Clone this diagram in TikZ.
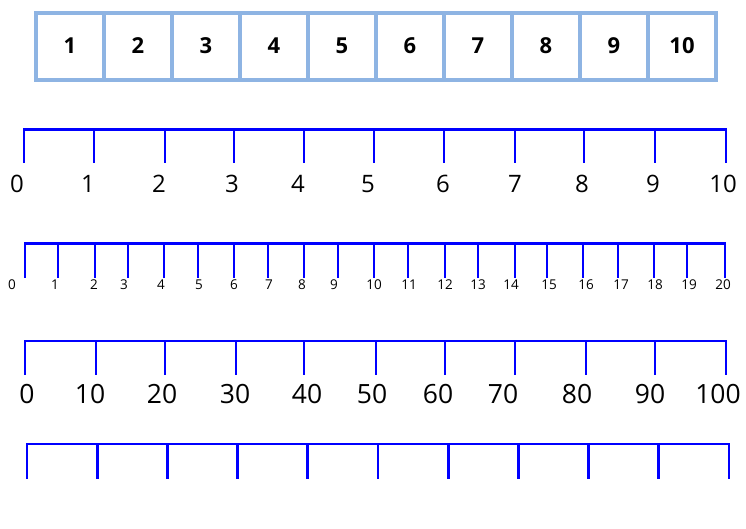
\documentclass[tikz,border=0pt]{standalone}
\usepackage{fontspec}
\setmainfont{Open Sans}
\usepackage{xcolor}
\usepackage{tikz}
\usetikzlibrary{positioning}
\definecolor{cellblue}{HTML}{8EB4E3}
\tikzset{
  cell/.style={draw=cellblue,line width=4pt,minimum width=68pt,minimum height=67pt,inner sep=0pt,font=\fontsize{22}{24}\selectfont\bfseries},
  numline/.style={blue,line width=2.9pt,line cap=rect},
  tick/.style={blue,line width=2.9pt},
  bigl/.style={inner sep=0pt,font=\fontsize{24}{26}\selectfont},
  smalll/.style={inner sep=0pt,font=\fontsize{13.5}{15}\selectfont},
  hugel/.style={inner sep=0pt,font=\fontsize{26.5}{28}\selectfont}
}

\begin{document}
\begin{tikzpicture}[x=1pt,y=-1pt]
  \useasboundingbox (0,0) rectangle (746,528);
  % counting cells
  \foreach \i in {1,...,10}
    \node[cell] (c\i) at ({2+68*\i},46) {\i};
  % line 0 to 10
  \draw[numline] (24,129.5) -- (726,129.5);
  \foreach \t/\l/\n in {24/17/0,94/88/1,165/159/2,234/232/3,304/298/4,374/368/5,
                        444/443/6,515/515/7,584/582/8,655/653/9,726/723/10} {
    \draw[tick] (\t,129.5) -- (\t,163);
    \node[bigl] (a\n) at (\l,184) {\n};
  }
  % line 0 to 20
  \draw[numline] (25,243.5) -- (725,243.5);
  \foreach \t/\l/\n in {25/12/0,58/55/1,95/94/2,128/124/3,164/161/4,198/199/5,
                        234/234/6,268/269/7,304/302/8,338/334/9,374/374/10,
                        408/409/11,445/445/12,478/478/13,515/511/14,547/549/15,
                        583/586/16,618/621/17,654/655/18,687/689/19,725/723/20} {
    \draw[tick] (\t,243.5) -- (\t,277.5);
    \node[smalll] (b\n) at (\l,285) {\n};
  }
  % line 0 to 100
  \draw[numline] (25,341) -- (726,341);
  \foreach \t/\l/\n in {25/27/0,96/90/10,165/162/20,236/235/30,304/307/40,376/372/50,
                        445/438/60,515/503/70,586/577/80,655/650/90,726/718/100} {
    \draw[tick] (\t,341) -- (\t,375);
    \node[hugel] (d\n) at (\l,394) {\n};
  }
  % empty line
  \draw[numline] (27,444) -- (729,444);
  \foreach \k in {0,...,10}
    \draw[tick] ({27+70.2*\k},444) -- ({27+70.2*\k},479);
\end{tikzpicture}
\end{document}
